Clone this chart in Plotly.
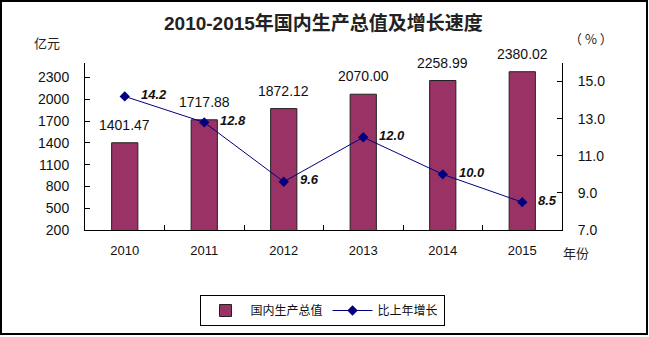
import plotly.graph_objects as go

years = ["2010", "2011", "2012", "2013", "2014", "2015"]
gdp = [1401.47, 1717.88, 1872.12, 2070.00, 2258.99, 2380.02]
growth = [14.2, 12.8, 9.6, 12.0, 10.0, 8.5]
gdp_labels = ["1401.47", "1717.88", "1872.12", "2070.00", "2258.99", "2380.02"]
growth_labels = ["14.2", "12.8", "9.6", "12.0", "10.0", "8.5"]
left_ticks = [200, 500, 800, 1100, 1400, 1700, 2000, 2300]
right_ticks = [7.0, 9.0, 11.0, 13.0, 15.0]

FONT = "Arial, 'Liberation Sans', 'Noto Sans CJK SC', sans-serif"
CJK = "'Noto Sans CJK SC', sans-serif"

W, H = 649, 337
L, R, T, B = 85, 87, 63, 107
pw, ph = W - L - R, H - T - B

def px(x):
    return (x - L) / pw

def py(y):
    return (H - B - y) / ph

fig = go.Figure()
fig.add_trace(go.Bar(
    x=years, y=gdp, name="国内生产总值",
    marker=dict(color="#993366", line=dict(color="#222222", width=1)),
    yaxis="y",
))
fig.add_trace(go.Scatter(
    x=years, y=growth, name="比上年增长", yaxis="y2",
    mode="lines+markers",
    line=dict(color="#000080", width=1),
    marker=dict(symbol="diamond", size=8, color="#000080"),
))

annotations = []
for i, (v, t) in enumerate(zip(gdp, gdp_labels)):
    annotations.append(dict(x=i, y=v, xref="x", yref="y", text=t, showarrow=False,
                            yshift=18, font=dict(family=FONT, size=14, color="#111111")))
for i, (v, t) in enumerate(zip(growth, growth_labels)):
    annotations.append(dict(x=i, y=v, xref="x", yref="y2", text="<b><i>%s</i></b>" % t,
                            showarrow=False, xanchor="left", xshift=14, yshift=2,
                            font=dict(family=FONT, size=13, color="#111111")))

def label(x, y, text, size=13, family=CJK):
    return dict(x=px(x), y=py(y), xref="paper", yref="paper", showarrow=False,
                xanchor="center", yanchor="middle", text=text,
                font=dict(family=family, size=size, color="#222222"))

annotations += [
    label(323, 23, "<b>2010-2015年国内生产总值及增长速度</b>", size=19, family=FONT),
    label(47, 42, "亿元"),
    label(591, 38, "（ % ）"),
    label(576, 252, "年份"),
]

shapes = [dict(type="rect", xref="paper", yref="paper",
               x0=px(1), x1=px(647), y0=py(334), y1=py(1),
               line=dict(color="#000000", width=2), layer="above")]

fig.update_layout(
    width=W, height=H,
    margin=dict(l=L, r=R, t=T, b=B, autoexpand=False),
    paper_bgcolor="white", plot_bgcolor="white",
    font=dict(family=FONT, size=13, color="#111111"),
    bargap=0.67,
    showlegend=True,
    legend=dict(orientation="h", xref="container", yref="container",
                x=322 / W, xanchor="center", y=1 - 295 / H, yanchor="top",
                bordercolor="#000000", borderwidth=1, bgcolor="rgba(255,255,255,0)",
                font=dict(family=CJK, size=12, color="#111111"),
                itemwidth=40, tracegroupgap=0),
    xaxis=dict(type="category", showline=True, linecolor="#000000", linewidth=1,
               ticks="inside", ticklen=5, tickcolor="#000000", tickson="boundaries",
               showgrid=False, zeroline=False, ticklabelstandoff=8, automargin=False,
               tickfont=dict(family=FONT, size=13)),
    yaxis=dict(range=[200, 2500], tickvals=left_ticks, showline=True, linecolor="#000000",
               linewidth=1, ticks="inside", ticklen=5, tickcolor="#000000",
               showgrid=False, zeroline=False, ticklabelstandoff=12, automargin=False,
               tickfont=dict(family=FONT, size=14)),
    yaxis2=dict(range=[7, 16], tickvals=right_ticks, tickformat=".1f", overlaying="y",
                side="right", showline=True, linecolor="#000000", linewidth=1,
                ticks="inside", ticklen=5, tickcolor="#000000", automargin=False,
                showgrid=False, zeroline=False, ticklabelstandoff=12,
                tickfont=dict(family=FONT, size=14)),
    annotations=annotations,
    shapes=shapes,
)

fig.write_html("out.html")
